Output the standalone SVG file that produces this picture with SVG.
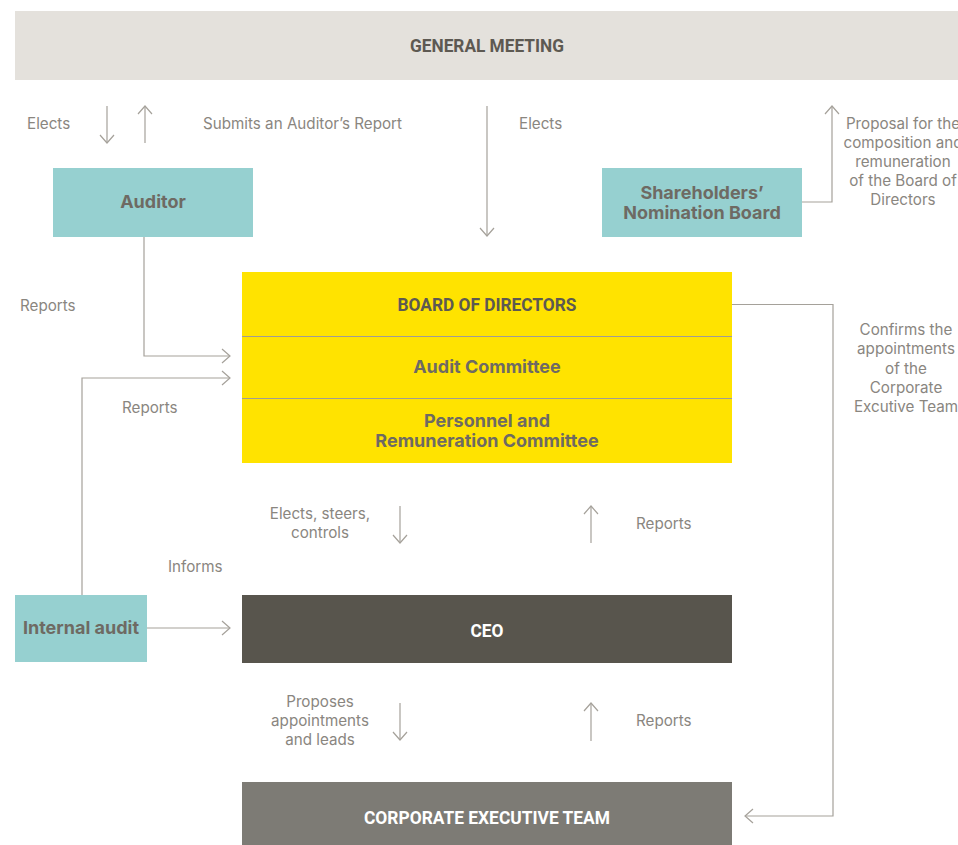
<svg xmlns="http://www.w3.org/2000/svg" width="958" height="845" viewBox="0 0 958 845">
<style>
.lbl{font-family:Inter,"Open Sans","Liberation Sans",sans-serif;font-size:15.2px;fill:#8a867f}
.nd{font-family:Inter,"Open Sans","Liberation Sans",sans-serif;font-size:18px;font-weight:700;fill:#6e6a63}
.hd{font-family:Roboto,"Liberation Sans",sans-serif;font-size:18px;font-weight:700;fill:#5d5952}
.hdw{font-family:Roboto,"Liberation Sans",sans-serif;font-size:18px;font-weight:700;fill:#ffffff}
.cn{fill:none;stroke:#a5a19a;stroke-width:1.2}
</style>
<defs>
<marker id="ah" markerUnits="userSpaceOnUse" markerWidth="12" markerHeight="16" refX="9" refY="8" orient="auto">
<path d="M1,1 L9,8 L1,15" fill="none" stroke="#a5a19a" stroke-width="1.2"/>
</marker>
</defs>

<g id="general-meeting">
<rect x="15" y="11" width="943" height="69" fill="#e4e1dc"/>
<text class="hd" x="487" y="52" text-anchor="middle" textLength="154" lengthAdjust="spacingAndGlyphs">GENERAL MEETING</text>
</g>

<g id="auditor">
<rect x="53" y="168" width="200" height="69" fill="#96d0d0"/>
<text class="nd" x="153" y="208" text-anchor="middle">Auditor</text>
</g>

<g id="nomination-board">
<rect x="602" y="168" width="200" height="69" fill="#96d0d0"/>
<text class="nd" x="702" y="199" text-anchor="middle">Shareholders’</text>
<text class="nd" x="702" y="219" text-anchor="middle">Nomination Board</text>
</g>

<g id="board">
<rect x="242" y="272" width="490" height="191" fill="#ffe300"/>
<line x1="242" y1="336.5" x2="732" y2="336.5" stroke="#a09c95" stroke-width="1"/>
<line x1="242" y1="398.5" x2="732" y2="398.5" stroke="#a09c95" stroke-width="1"/>
<text class="hd" x="487" y="311" text-anchor="middle" textLength="179" lengthAdjust="spacingAndGlyphs">BOARD OF DIRECTORS</text>
<text class="nd" x="487" y="373" text-anchor="middle">Audit Committee</text>
<text class="nd" x="487" y="427" text-anchor="middle">Personnel and</text>
<text class="nd" x="487" y="447" text-anchor="middle">Remuneration Committee</text>
</g>

<g id="internal-audit">
<rect x="15" y="595" width="132" height="67" fill="#96d0d0"/>
<text class="nd" x="81" y="634" text-anchor="middle">Internal audit</text>
</g>

<g id="ceo">
<rect x="242" y="595" width="490" height="68" fill="#58554d"/>
<text class="hdw" x="487" y="637" text-anchor="middle" textLength="33" lengthAdjust="spacingAndGlyphs">CEO</text>
</g>

<g id="executive-team">
<rect x="242" y="782" width="490" height="63" fill="#7d7b75"/>
<text class="hdw" x="487" y="824" text-anchor="middle" textLength="246" lengthAdjust="spacingAndGlyphs">CORPORATE EXECUTIVE TEAM</text>
</g>

<g id="connectors">
<line class="cn" x1="107" y1="106" x2="107" y2="143" marker-end="url(#ah)"/>
<line class="cn" x1="145" y1="143" x2="145" y2="106" marker-end="url(#ah)"/>
<line class="cn" x1="487" y1="106" x2="487" y2="236" marker-end="url(#ah)"/>
<polyline class="cn" points="802,202 832,202 832,106" marker-end="url(#ah)"/>
<polyline class="cn" points="144,237 144,356 230,356" marker-end="url(#ah)"/>
<polyline class="cn" points="82,595 82,378 230,378" marker-end="url(#ah)"/>
<polyline class="cn" points="732,304.5 833,304.5 833,816 745,816" marker-end="url(#ah)"/>
<line class="cn" x1="400" y1="506" x2="400" y2="543" marker-end="url(#ah)"/>
<line class="cn" x1="591" y1="543" x2="591" y2="506" marker-end="url(#ah)"/>
<line class="cn" x1="147" y1="628" x2="230" y2="628" marker-end="url(#ah)" stroke="#7d7a74"/>
<line class="cn" x1="400" y1="703" x2="400" y2="740" marker-end="url(#ah)"/>
<line class="cn" x1="591" y1="741" x2="591" y2="703" marker-end="url(#ah)"/>
</g>

<g id="labels">
<text class="lbl" x="27" y="129">Elects</text>
<text class="lbl" x="203" y="129">Submits an Auditor’s Report</text>
<text class="lbl" x="519" y="129">Elects</text>
<text class="lbl" text-anchor="middle" x="903"><tspan x="903" y="129">Proposal for the</tspan><tspan x="903" y="148">composition and</tspan><tspan x="903" y="167">remuneration</tspan><tspan x="903" y="186">of the Board of</tspan><tspan x="903" y="205">Directors</tspan></text>
<text class="lbl" x="20" y="311">Reports</text>
<text class="lbl" x="122" y="413">Reports</text>
<text class="lbl" text-anchor="middle" x="906"><tspan x="906" y="335">Confirms the</tspan><tspan x="906" y="354">appointments</tspan><tspan x="906" y="374">of the</tspan><tspan x="906" y="393">Corporate</tspan><tspan x="906" y="412">Excutive Team</tspan></text>
<text class="lbl" text-anchor="middle" x="320"><tspan x="320" y="519">Elects, steers,</tspan><tspan x="320" y="538">controls</tspan></text>
<text class="lbl" x="636" y="529">Reports</text>
<text class="lbl" x="168" y="572">Informs</text>
<text class="lbl" text-anchor="middle" x="320"><tspan x="320" y="707">Proposes</tspan><tspan x="320" y="726">appointments</tspan><tspan x="320" y="745">and leads</tspan></text>
<text class="lbl" x="636" y="726">Reports</text>
</g>
</svg>
